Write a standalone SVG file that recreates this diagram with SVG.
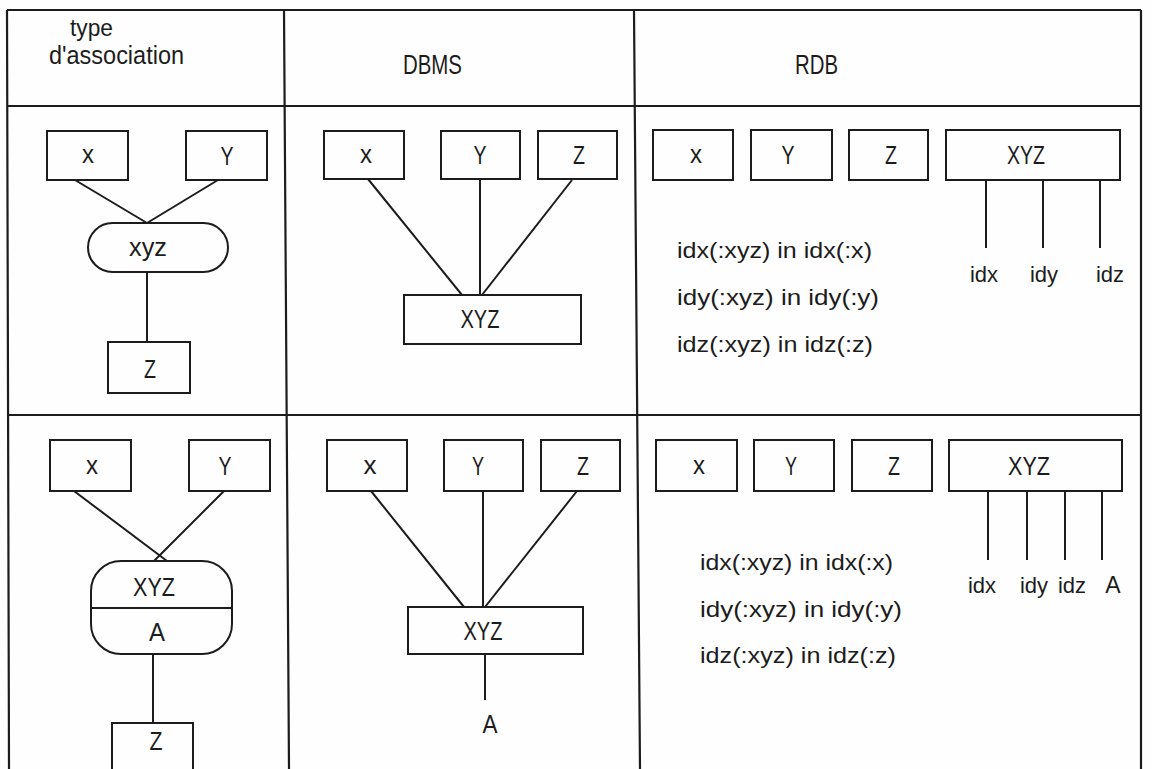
<svg xmlns="http://www.w3.org/2000/svg" width="1152" height="769" viewBox="0 0 1152 769">
<style>
.frame{stroke:#1c1c1c;stroke-width:2.2;fill:none}
.bx{fill:none;stroke:#1c1c1c;stroke-width:2}
.ln{stroke:#1c1c1c;stroke-width:2;fill:none}
.t{font-family:"Liberation Sans",Arial,sans-serif;font-size:26px;fill:#1c1c1c;text-anchor:middle}
.h{font-family:"Liberation Sans",Arial,sans-serif;font-size:28px;fill:#1c1c1c}
.s{font-family:"Liberation Sans",Arial,sans-serif;font-size:22px;fill:#1c1c1c}
.c{text-anchor:middle}
</style>
<rect x="0" y="0" width="1152" height="769" fill="#fefefe"/>
<g id="table">
<path class="frame" d="M7,10 L1141,10 M7,10 L9,769 M1141,10 L1141,769 M7,106 L1141,106 M8,415 L1141,415 M284,10 L289,769 M634,10 L640,769"/>
</g>
<g id="headers">
<text class="h" x="70" y="36" textLength="43" lengthAdjust="spacingAndGlyphs" style="font-size:24px">type</text>
<text class="h" x="49" y="64" textLength="135" lengthAdjust="spacingAndGlyphs" style="font-size:26px">d'association</text>
<text class="h" x="403" y="74" textLength="59" lengthAdjust="spacingAndGlyphs">DBMS</text>
<text class="h" x="795" y="74" textLength="43" lengthAdjust="spacingAndGlyphs">RDB</text>
</g>
<g id="connectors">
<path class="ln" d="M75,180 L147,223 M218,180 L147,223 M147,272 L147,342"/>
<path class="ln" d="M368,179 L462,295 M480,179 L480,295 M572,180 L482,295"/>
<path class="ln" d="M986,180 L986,248 M1043,180 L1043,248 M1100,180 L1100,248"/>
<path class="ln" d="M74,491 L167,561 M224,491 L154,561 M153,654 L153,723"/>
<path class="ln" d="M371,491 L464,607 M483,491 L483,607 M577,491 L485,607 M485,654 L485,700"/>
<path class="ln" d="M988,491 L988,560 M1027,491 L1027,560 M1065,491 L1065,560 M1102,491 L1102,560"/>
</g>
<g id="r1-assoc-x"><rect class="bx" x="47" y="131" width="81" height="49"/><text class="t" x="88" y="163" textLength="12" lengthAdjust="spacingAndGlyphs">x</text></g>
<g id="r1-assoc-y"><rect class="bx" x="186" y="131" width="81" height="49"/><text class="t" x="227" y="165" textLength="13" lengthAdjust="spacingAndGlyphs">Y</text></g>
<g id="r1-assoc-xyz"><rect class="bx" x="88" y="223" width="140" height="49" rx="24.5" ry="24.5"/><text class="t" x="148" y="256" textLength="38" lengthAdjust="spacingAndGlyphs">xyz</text></g>
<g id="r1-assoc-z"><rect class="bx" x="108" y="342" width="82" height="51"/><text class="t" x="150" y="378" textLength="12" lengthAdjust="spacingAndGlyphs">Z</text></g>

<g id="r1-dbms-x"><rect class="bx" x="324" y="131" width="80" height="48"/><text class="t" x="366" y="163" textLength="12" lengthAdjust="spacingAndGlyphs">x</text></g>
<g id="r1-dbms-y"><rect class="bx" x="441" y="131" width="79" height="48"/><text class="t" x="480" y="164" textLength="13" lengthAdjust="spacingAndGlyphs">Y</text></g>
<g id="r1-dbms-z"><rect class="bx" x="538" y="131" width="79" height="48"/><text class="t" x="579" y="164" textLength="12" lengthAdjust="spacingAndGlyphs">Z</text></g>
<g id="r1-dbms-xyz"><rect class="bx" x="404" y="295" width="177" height="49"/><text class="t" x="480" y="328" textLength="39" lengthAdjust="spacingAndGlyphs">XYZ</text></g>

<g id="r1-rdb-x"><rect class="bx" x="653" y="130" width="80" height="50"/><text class="t" x="696" y="163" textLength="12" lengthAdjust="spacingAndGlyphs">x</text></g>
<g id="r1-rdb-y"><rect class="bx" x="751" y="130" width="81" height="50"/><text class="t" x="788" y="164" textLength="13" lengthAdjust="spacingAndGlyphs">Y</text></g>
<g id="r1-rdb-z"><rect class="bx" x="849" y="130" width="79" height="50"/><text class="t" x="891" y="164" textLength="12" lengthAdjust="spacingAndGlyphs">Z</text></g>
<g id="r1-rdb-xyz"><rect class="bx" x="946" y="130" width="174" height="50"/><text class="t" x="1026" y="164" textLength="38" lengthAdjust="spacingAndGlyphs">XYZ</text></g>
<g id="r1-rdb-attrs">
<text class="s c" x="984" y="282">idx</text>
<text class="s c" x="1044" y="282">idy</text>
<text class="s c" x="1110" y="282">idz</text>
</g>
<g id="r1-rdb-constraints">
<text class="s" x="677" y="258" textLength="195" lengthAdjust="spacingAndGlyphs">idx(:xyz) in idx(:x)</text>
<text class="s" x="677" y="305" textLength="202" lengthAdjust="spacingAndGlyphs">idy(:xyz) in idy(:y)</text>
<text class="s" x="677" y="352" textLength="196" lengthAdjust="spacingAndGlyphs">idz(:xyz) in idz(:z)</text>
</g>

<g id="r2-assoc-x"><rect class="bx" x="50" y="440" width="81" height="51"/><text class="t" x="92" y="474" textLength="12" lengthAdjust="spacingAndGlyphs">x</text></g>
<g id="r2-assoc-y"><rect class="bx" x="189" y="440" width="81" height="51"/><text class="t" x="225" y="475" textLength="13" lengthAdjust="spacingAndGlyphs">Y</text></g>
<g id="r2-assoc-xyz"><rect class="bx" x="91" y="561" width="141" height="93" rx="30" ry="30"/><line class="ln" x1="91" y1="608" x2="232" y2="608"/><text class="t" x="154" y="596" textLength="42" lengthAdjust="spacingAndGlyphs">XYZ</text><text class="t" x="157" y="641" textLength="16" lengthAdjust="spacingAndGlyphs">A</text></g>
<g id="r2-assoc-z"><rect class="bx" x="112" y="723" width="81" height="60"/><text class="t" x="156" y="750" textLength="13" lengthAdjust="spacingAndGlyphs">Z</text></g>

<g id="r2-dbms-x"><rect class="bx" x="327" y="440" width="80" height="51"/><text class="t" x="370" y="474" textLength="13" lengthAdjust="spacingAndGlyphs">x</text></g>
<g id="r2-dbms-y"><rect class="bx" x="444" y="440" width="79" height="51"/><text class="t" x="478" y="475" textLength="12" lengthAdjust="spacingAndGlyphs">Y</text></g>
<g id="r2-dbms-z"><rect class="bx" x="541" y="440" width="79" height="51"/><text class="t" x="583" y="475" textLength="12" lengthAdjust="spacingAndGlyphs">Z</text></g>
<g id="r2-dbms-xyz"><rect class="bx" x="408" y="607" width="175" height="47"/><text class="t" x="483" y="640" textLength="39" lengthAdjust="spacingAndGlyphs">XYZ</text></g>
<g id="r2-dbms-a"><text class="t" x="490" y="733" textLength="15" lengthAdjust="spacingAndGlyphs">A</text></g>

<g id="r2-rdb-x"><rect class="bx" x="656" y="440" width="81" height="51"/><text class="t" x="699" y="474" textLength="12" lengthAdjust="spacingAndGlyphs">x</text></g>
<g id="r2-rdb-y"><rect class="bx" x="754" y="440" width="80" height="51"/><text class="t" x="791" y="475" textLength="12" lengthAdjust="spacingAndGlyphs">Y</text></g>
<g id="r2-rdb-z"><rect class="bx" x="852" y="440" width="80" height="51"/><text class="t" x="894" y="475" textLength="12" lengthAdjust="spacingAndGlyphs">Z</text></g>
<g id="r2-rdb-xyz"><rect class="bx" x="949" y="440" width="173" height="51"/><text class="t" x="1029" y="475" textLength="42" lengthAdjust="spacingAndGlyphs">XYZ</text></g>
<g id="r2-rdb-attrs">
<text class="s c" x="982" y="593">idx</text>
<text class="s c" x="1034" y="593">idy</text>
<text class="s c" x="1072" y="593">idz</text>
<text class="s c" x="1113" y="593" style="font-size:23px">A</text>
</g>
<g id="r2-rdb-constraints">
<text class="s" x="700" y="570" textLength="193" lengthAdjust="spacingAndGlyphs">idx(:xyz) in idx(:x)</text>
<text class="s" x="700" y="617" textLength="202" lengthAdjust="spacingAndGlyphs">idy(:xyz) in idy(:y)</text>
<text class="s" x="700" y="663" textLength="196" lengthAdjust="spacingAndGlyphs">idz(:xyz) in idz(:z)</text>
</g>
</svg>
